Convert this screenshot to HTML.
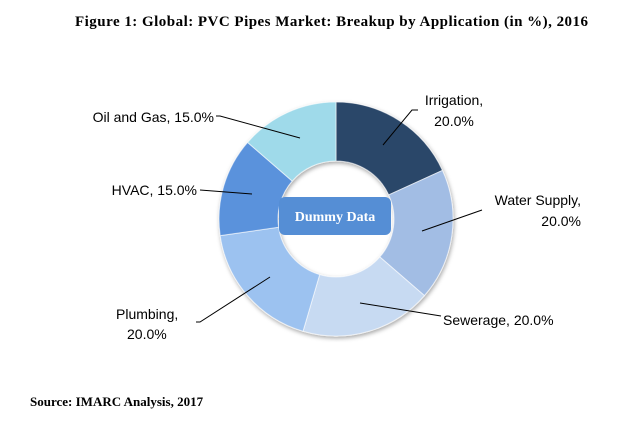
<!DOCTYPE html>
<html><head><meta charset="utf-8"><style>
body{margin:0;background:#fff;width:641px;height:432px;overflow:hidden}
svg text{font-family:"Liberation Sans",Arial,sans-serif;font-size:14px;fill:#000}
</style></head><body>
<svg width="641" height="432">
<defs><filter id="sh" x="-20%" y="-20%" width="140%" height="140%"><feDropShadow dx="1" dy="2" stdDeviation="2" flood-opacity="0.35"/></filter></defs>
<text x="75" y="26" textLength="513" lengthAdjust="spacing" style="font-family:'Liberation Serif',serif;font-weight:bold;font-size:15px">Figure 1: Global: PVC Pipes Market: Breakup by Application (in %), 2016</text>
<g id="slices" filter="url(#sh)"></g>
<rect x="279" y="197" width="112" height="38" rx="6" fill="#558ed5"/>
<text x="335" y="221" text-anchor="middle" style="font-family:'Liberation Serif',serif;font-weight:bold;font-size:14px;fill:#fff">Dummy Data</text>
<g stroke="#000" stroke-width="1" fill="none">
<polyline points="383,145 412,110 418,110"/>
<polyline points="422,231 482,210"/>
<polyline points="360,303 441,316"/>
<polyline points="270,277 200,322 196,322"/>
<polyline points="252,194 200,190"/>
<polyline points="300,138 220,116 216,116"/>
</g>
<text x="454" y="105" text-anchor="middle">Irrigation,</text>
<text x="454" y="126" text-anchor="middle">20.0%</text>
<text x="581" y="205" text-anchor="end">Water Supply,</text>
<text x="581" y="226" text-anchor="end">20.0%</text>
<text x="443" y="325">Sewerage, 20.0%</text>
<text x="116" y="319">Plumbing,</text>
<text x="127" y="339">20.0%</text>
<text x="197" y="195" text-anchor="end">HVAC, 15.0%</text>
<text x="214" y="122" text-anchor="end">Oil and Gas, 15.0%</text>
<text x="30" y="406" style="font-family:'Liberation Serif',serif;font-weight:bold;font-size:13px">Source: IMARC Analysis, 2017</text>
</svg>
<script>
const categories=["Irrigation","Water Supply","Sewerage","Plumbing","HVAC","Oil and Gas"];
const values=[20,20,20,20,15,15];
const colors=["#2a4669","#a2bde4","#c7daf2","#9cc2f0","#5a92dc","#9fdaea"];
const cx=336,cy=219,R=117,r=58;
const g=document.getElementById('slices');
const total=values.reduce((a,b)=>a+b,0);
let a0=-Math.PI/2;
function pt(rad,a){return [cx+rad*Math.cos(a),cy+rad*Math.sin(a)];}
values.forEach((v,i)=>{
 const a1=a0+v/total*2*Math.PI;
 const large=(a1-a0)>Math.PI?1:0;
 const [x0,y0]=pt(R,a0),[x1,y1]=pt(R,a1),[x2,y2]=pt(r,a1),[x3,y3]=pt(r,a0);
 const p=document.createElementNS('http://www.w3.org/2000/svg','path');
 p.setAttribute('d',`M${x0},${y0}A${R},${R} 0 ${large} 1 ${x1},${y1}L${x2},${y2}A${r},${r} 0 ${large} 0 ${x3},${y3}Z`);
 p.setAttribute('fill',colors[i]);
 p.setAttribute('stroke','#ffffff');
 p.setAttribute('stroke-opacity','0.6');
 
 
 g.appendChild(p);
 a0=a1;
});
</script>
</body></html>
